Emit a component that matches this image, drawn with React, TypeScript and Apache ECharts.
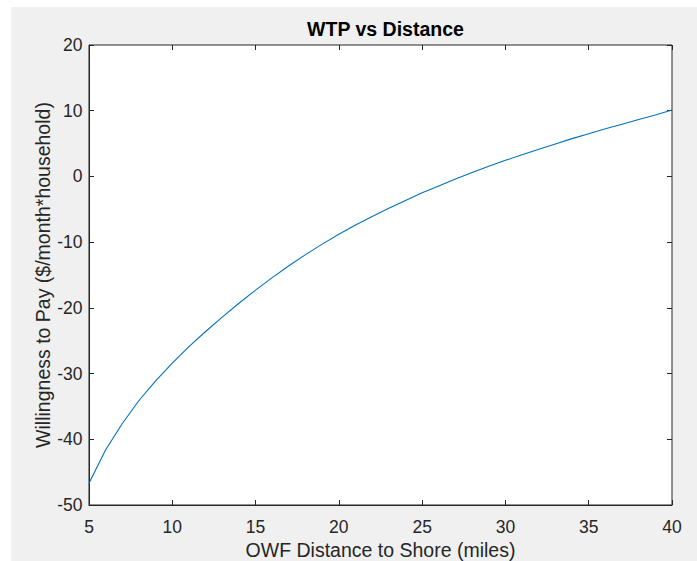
import React, { useEffect, useRef } from "react";
import * as echarts from "echarts";

const distances = [5, 6, 7, 8, 9, 10, 11, 12, 13, 14, 15, 16, 17, 18, 19, 20, 21, 22, 23, 24, 25, 26, 27, 28, 29, 30, 31, 32, 33, 34, 35, 36, 37, 38, 39, 40];
const wtp = [-46.7, -41.6, -37.6, -34.1, -31.1, -28.4, -25.9, -23.6, -21.4, -19.3, -17.3, -15.4, -13.6, -11.9, -10.3, -8.8, -7.4, -6.1, -4.85, -3.65, -2.5, -1.45, -0.4, 0.6, 1.55, 2.45, 3.3, 4.15, 4.95, 5.75, 6.5, 7.25, 7.95, 8.65, 9.35, 10.1];
const chartTitle = "WTP vs Distance";
const xName = "OWF Distance to Shore (miles)";
const yName = "Willingness to Pay ($/month*household)";

const FONT = "'Liberation Sans', Arial, Helvetica, sans-serif";
const TXT = "#262626";

export default function App() {
  const ref = useRef<HTMLDivElement>(null);
  useEffect(() => {
    if (!ref.current) return;
    const chart = echarts.init(ref.current, undefined, { renderer: "svg" });
    const tickLabel = { color: TXT, fontSize: 17.5, fontFamily: FONT };
    const tick = { show: true, inside: true, length: 5, lineStyle: { color: "#262626" } };
    chart.setOption({
      animation: false,
      backgroundColor: "#ffffff",
      graphic: [
        { type: "rect", z: -100, silent: true, shape: { x: 11, y: 7, width: 686, height: 554 }, style: { fill: "#f0f0f0" } },
      ],
      title: {
        text: chartTitle,
        left: 380.5,
        textAlign: "center",
        top: 14,
        textStyle: { fontSize: 19.5, fontWeight: "bold", color: "#000", fontFamily: FONT },
      },
      grid: {
        left: 89,
        top: 45,
        right: 25,
        bottom: 56,
        outerBoundsMode: "none",
        containLabel: false,
        show: true,
        backgroundColor: "#ffffff",
        borderColor: "#262626",
        borderWidth: 1,
      },
      xAxis: [
        {
          type: "value",
          min: 5,
          max: 40,
          interval: 5,
          name: xName,
          nameLocation: "middle",
          nameGap: 35,
          nameMoveOverlap: false,
          nameTextStyle: { color: TXT, fontSize: 19.5, fontFamily: FONT },
          axisLine: { show: true, onZero: false, lineStyle: { color: "#262626", width: 1 } },
          axisTick: tick,
          axisLabel: { ...tickLabel, margin: 12.5 },
          splitLine: { show: false },
        },
        {
          type: "value",
          position: "top",
          min: 5,
          max: 40,
          interval: 5,
          axisLine: { show: false, onZero: false },
          axisTick: tick,
          axisLabel: { show: false },
          splitLine: { show: false },
        },
      ],
      yAxis: [
        {
          type: "value",
          min: -50,
          max: 20,
          interval: 10,
          name: yName,
          nameLocation: "middle",
          nameGap: 36,
          nameMoveOverlap: false,
          nameTextStyle: { color: TXT, fontSize: 19.5, fontFamily: FONT },
          axisLine: { show: true, onZero: false, lineStyle: { color: "#262626", width: 1 } },
          axisTick: tick,
          axisLabel: { ...tickLabel, margin: 6.5 },
          splitLine: { show: false },
        },
        {
          type: "value",
          position: "right",
          min: -50,
          max: 20,
          interval: 10,
          axisLine: { show: false, onZero: false },
          axisTick: tick,
          axisLabel: { show: false },
          splitLine: { show: false },
        },
      ],
      series: [
        {
          type: "line",
          xAxisIndex: 0,
          yAxisIndex: 0,
          data: distances.map((d, i) => [d, wtp[i]]),
          showSymbol: false,
          symbol: "none",
          lineStyle: { color: "#0072BD", width: 1.1 },
          itemStyle: { color: "#0072BD" },
        },
      ],
    });
    return () => chart.dispose();
  }, []);
  return (
    <div
      ref={ref}
      style={{ position: "fixed", left: 0, top: 0, width: 697, height: 561 }}
    />
  );
}
